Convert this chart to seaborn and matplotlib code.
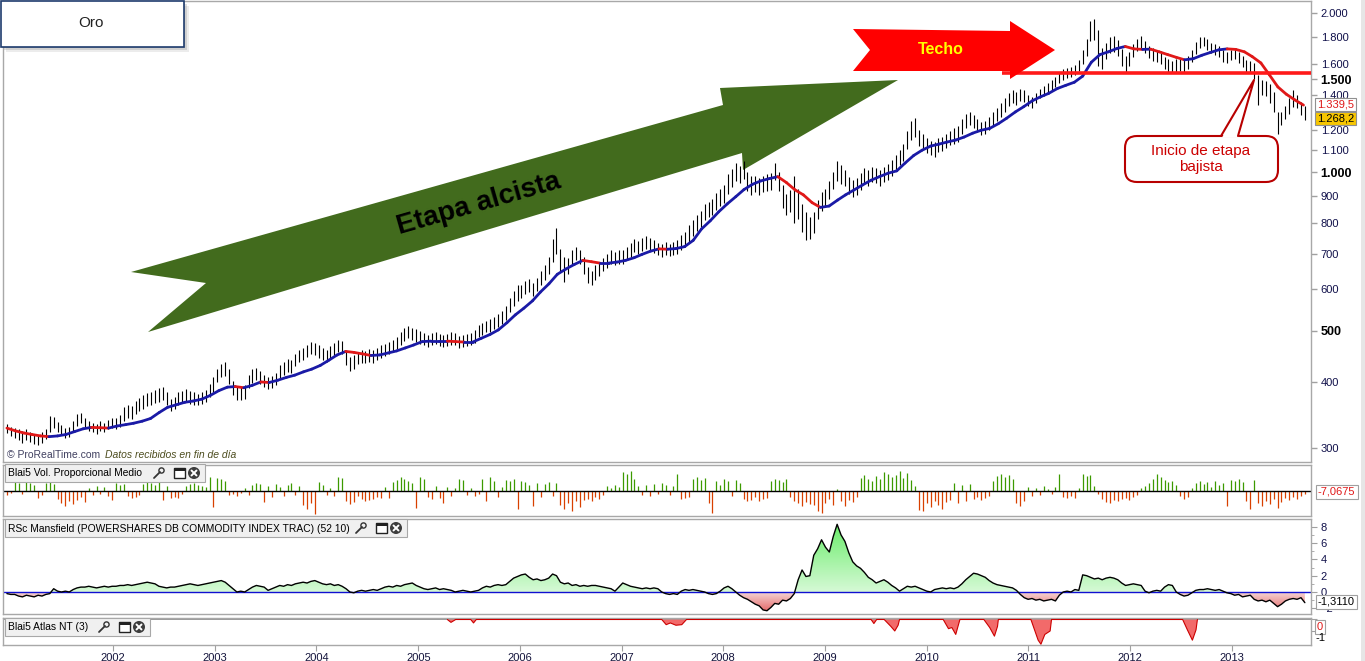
import numpy as np
import pandas as pd
import matplotlib
matplotlib.use("Agg")
import matplotlib.pyplot as plt
import matplotlib.dates as mdates
import matplotlib.ticker as mticker
import matplotlib.transforms as mtransforms
from matplotlib.patches import Polygon, Rectangle, FancyBboxPatch, Circle
from matplotlib.lines import Line2D
from matplotlib.collections import LineCollection
from matplotlib.colors import LinearSegmentedColormap
import seaborn as sns

sns.set_style("white")
plt.rcParams['font.family'] = ['Liberation Sans', 'DejaVu Sans']

# ------------------------------
# data (two-week bars, Dec 2000 .. Sep 2013)
# ------------------------------
bar_start = "2000-12-15"

price_hi = [
    333, 328,
    327, 325, 323, 325, 322, 319, 317, 321, 326, 345, 343, 336, 332, 327, 329, 338, 347, 349, 342, 337, 335, 333, 337, 335, 339, 341,
    342, 346, 358, 362, 360, 368, 373, 377, 381, 383, 386, 390, 391, 383, 371, 375, 382, 385, 388, 384, 382, 380, 383, 386, 397, 408,
    424, 433, 436, 424, 402, 393, 392, 394, 412, 423, 426, 420, 413, 408, 410, 416, 430, 437, 442, 440, 452, 460, 464, 470, 477, 474,
    471, 464, 460, 467, 475, 481, 478, 458, 446, 449, 456, 459, 458, 461, 459, 464, 471, 473, 477, 481, 487, 497, 506, 511, 507, 503,
    499, 495, 491, 496, 498, 494, 491, 493, 497, 496, 489, 491, 493, 495, 501, 513, 518, 523, 526, 532, 539, 546, 556, 578, 594, 610,
    612, 622, 627, 617, 630, 650, 667, 690, 745, 782, 715, 690, 688, 712, 720, 712, 690, 662, 650, 665, 675, 688, 698, 710, 705, 710,
    710, 720, 733, 746, 741, 749, 756, 751, 743, 735, 730, 736, 732, 737, 742, 760, 770, 792, 812, 828, 843, 868, 878, 890, 912, 928,
    945, 990, 1015, 1040, 1025, 1050, 1000, 985, 985, 975, 985, 990, 995, 1040, 1000, 945, 910, 925, 985, 930, 870, 840, 820, 840, 885, 915,
    930, 960, 1000, 1050, 1030, 1010, 980, 965, 975, 995, 1020, 1010, 1022, 1018, 1008, 1022, 1035, 1055, 1075, 1100, 1130, 1195, 1250, 1265, 1200, 1180,
    1160, 1145, 1140, 1160, 1165, 1180, 1198, 1210, 1220, 1260, 1290, 1300, 1280, 1258, 1245, 1250, 1270, 1300, 1325, 1350, 1380, 1410, 1430, 1420, 1435, 1430,
    1400, 1385, 1410, 1440, 1458, 1475, 1495, 1512, 1545, 1565, 1575, 1585, 1595, 1630, 1700, 1790, 1930, 1950, 1860, 1720, 1760, 1800, 1810, 1780, 1710, 1660,
    1690, 1750, 1790, 1810, 1775, 1735, 1715, 1705, 1695, 1655, 1635, 1625, 1640, 1645, 1635, 1660, 1705, 1765, 1800, 1800, 1790, 1760, 1750, 1730, 1700, 1690,
    1700, 1705, 1690, 1660, 1630, 1625, 1610, 1530, 1495, 1490, 1470, 1420, 1300, 1300, 1335, 1380, 1430, 1400, 1360, 1335,
]

price_lo = [
    320, 316,
    313, 311, 307, 311, 308, 305, 304, 307, 312, 322, 327, 321, 318, 313, 315, 323, 330, 334, 328, 323, 321, 319, 323, 321, 325, 327,
    326, 329, 337, 342, 340, 348, 352, 356, 360, 362, 365, 367, 369, 362, 352, 356, 362, 365, 368, 364, 362, 361, 364, 366, 374, 383,
    400, 408, 411, 397, 378, 370, 370, 372, 389, 398, 404, 397, 391, 388, 390, 394, 406, 413, 418, 416, 428, 436, 440, 446, 452, 450,
    445, 440, 436, 443, 449, 455, 452, 431, 420, 424, 432, 435, 434, 437, 435, 440, 445, 447, 451, 455, 461, 471, 478, 485, 481, 477,
    473, 469, 465, 470, 472, 468, 465, 467, 471, 470, 463, 465, 467, 469, 475, 487, 492, 497, 498, 504, 509, 514, 524, 542, 556, 570,
    578, 588, 593, 583, 594, 610, 623, 640, 675, 700, 645, 618, 642, 668, 680, 668, 640, 616, 612, 625, 635, 648, 658, 670, 665, 670,
    670, 680, 691, 704, 699, 707, 714, 709, 701, 695, 690, 696, 692, 695, 698, 710, 720, 738, 758, 772, 787, 812, 822, 830, 848, 862,
    875, 910, 935, 960, 955, 970, 920, 905, 915, 905, 915, 920, 925, 965, 920, 855, 830, 840, 800, 815, 770, 742, 745, 765, 815, 845,
    860, 890, 930, 960, 950, 940, 910, 895, 905, 925, 950, 940, 958, 952, 942, 958, 965, 985, 1005, 1030, 1050, 1105, 1150, 1165, 1120, 1100,
    1085, 1075, 1070, 1090, 1095, 1110, 1125, 1132, 1142, 1180, 1212, 1228, 1210, 1192, 1178, 1182, 1200, 1222, 1248, 1272, 1302, 1332, 1350, 1340, 1362, 1360,
    1335, 1325, 1350, 1380, 1395, 1405, 1425, 1448, 1478, 1495, 1505, 1515, 1525, 1555, 1600, 1660, 1770, 1780, 1590, 1570, 1640, 1680, 1690, 1660, 1590, 1550,
    1590, 1655, 1695, 1720, 1685, 1645, 1625, 1615, 1605, 1565, 1545, 1540, 1550, 1555, 1545, 1570, 1615, 1675, 1715, 1735, 1705, 1680, 1670, 1650, 1620, 1610,
    1630, 1635, 1610, 1580, 1550, 1540, 1500, 1340, 1400, 1395, 1350, 1300, 1180, 1230, 1260, 1290, 1330, 1320, 1280, 1255,
]

# 30-week moving average, monthly readings (Dec 2000 .. Sep 2013)
ma_start = "2000-12-01"
ma_values = [
    327,
    323, 320, 318, 316, 315, 316, 318, 322, 326, 328, 327.5, 327,
    330, 332, 334, 337, 341, 350, 358, 362, 366, 368, 371, 377,
    385, 391, 392, 390, 394, 400, 399, 403, 408, 412, 418, 423,
    430, 440, 450, 457, 455, 452, 449, 450, 454, 458, 464, 470,
    477, 478, 478, 478, 477, 476, 476, 484, 492, 502, 518, 536,
    552, 570, 592, 614, 640, 655, 668, 680, 676, 672, 672, 675,
    680, 688, 698, 708, 715, 714, 716, 722, 742, 780, 808, 840,
    870, 898, 926, 948, 962, 972, 980, 955, 925, 905, 875, 857,
    862, 885, 905, 925, 945, 965, 980, 995, 1005, 1040, 1075, 1100,
    1120, 1130, 1140, 1150, 1165, 1185, 1200, 1210, 1235, 1265, 1300, 1330,
    1365, 1390, 1410, 1440, 1460, 1480, 1520, 1615, 1670, 1690, 1715, 1730,
    1712, 1708, 1710, 1690, 1670, 1650, 1632, 1640, 1665, 1685, 1705, 1712,
    1708, 1690, 1655, 1610, 1530, 1450, 1405, 1370, 1339.5,
]

volume_values = [
    -4, -2,
    9, 8, -3, 9, 8, 6, -7, -4, 8, 9, 7, -8, -12, -15, -10, -13, -9, -6, -11, 3, -4, 5, -3, 4, -5, -9,
    8, 6, 7, -5, -7, -6, -4, 7, 9, 8, 6, 9, -9, 5, -7, -6, -7, -3, 5, 7, 8, 6, 5, 4, 14, -16,
    13, 12, 10, -4, -3, -5, -2, 3, -4, 6, 8, 7, -11, 5, -6, 7, 4, -5, 6, 8, -4, 5, -14, -18, -12, -23,
    9, 6, -4, 3, -5, 14, 13, -10, -13, -11, -5, -8, -10, -9, -8, -6, -7, 4, -7, 9, 11, 14, 12, 10, 8, -17,
    14, 12, -6, -8, 5, -7, -12, 4, -5, 3, 12, 11, -4, 3, -5, -3, 12, -10, 14, 10, -6, 4, 11, 10, 12, -18,
    10, 9, 6, -15, 8, -6, 7, 9, -5, 8, -14, -18, -12, -20, -10, -16, -9, -8, -10, -6, -8, -4, 5, 3, 6, 4,
    19, 17, 20, 12, 5, -4, 6, -5, 7, -3, 8, 6, -4, 5, 17, -8, -7, -6, 12, 14, 11, 13, -12, -22, 10, 6,
    12, 10, -5, 11, 8, -8, -10, -9, -6, -10, -8, -7, 10, 12, 11, 9, 12, -6, -10, -12, -15, -11, -13, -14, -20, -22,
    -12, -8, -14, 2, -10, -15, -9, -11, -6, 13, 16, 12, 10, 15, 12, 19, 17, 14, 16, 20, 13, 18, 11, 5, -19, -20,
    -12, -16, -10, -14, -18, -11, -9, 8, -12, 6, -10, 7, -8, -6, -9, -7, -5, 10, 15, 17, 14, 16, 12, -12, -15, -10,
    4, -5, 3, -4, 5, 2, -3, 4, 17, -6, -7, -5, -7, 3, 17, 15, 16, 5, -3, -8, -11, -12, -9, -10, -8, -7,
    -9, -6, -4, 3, 5, 8, 12, 17, 14, 11, 9, 10, 6, -5, -8, -6, 3, 8, 10, 7, 9, 4, 10, 6, 8, -15,
    11, 10, 12, 9, -10, -18, 11, -12, -15, -10, -13, -8, -17, -11, -7, -9, -6, -8, -5, -3,
]

rsc_values = [
    -0.2, -0.3,
    -0.3, -0.5, -0.6, -0.4, -0.5, -0.6, -0.4, -0.5, -0.3, -0.2, 0.4, 0.1, 0.0, 0.1, 0.0, 0.3, 0.5, 0.6, 0.6, 0.7, 0.6, 0.5, 0.6, 0.7, 0.6, 0.7,
    0.7, 0.8, 0.8, 0.9, 0.8, 0.9, 1.0, 1.1, 1.2, 1.1, 1.0, 0.7, 0.6, 0.5, 0.6, 0.6, 0.7, 0.8, 0.9, 1.0, 0.9, 0.8, 0.9, 1.0, 1.1, 1.2,
    1.3, 1.4, 1.2, 0.8, 0.4, 0.0, 0.1, 0.0, 0.3, 0.6, 0.8, 0.7, 0.6, 0.2, 0.4, 0.6, 0.8, 0.7, 0.9, 0.8, 1.0, 1.1, 1.2, 1.1, 1.3, 1.4,
    1.2, 1.0, 0.9, 1.0, 0.8, 0.9, 0.7, 0.4, 0.0, -0.1, 0.1, 0.2, 0.1, 0.2, 0.3, 0.2, 0.4, 0.6, 0.7, 0.6, 0.8, 0.7, 0.9, 1.0, 1.1, 0.8,
    0.6, 0.4, 0.3, 0.4, 0.5, 0.3, 0.4, 0.3, 0.2, 0.0, 0.1, 0.2, 0.1, 0.0, 0.1, 0.2, 0.5, 0.7, 0.6, 0.8, 0.9, 0.8, 0.9, 1.3, 1.7, 1.9,
    2.1, 2.2, 1.8, 1.5, 1.6, 1.4, 1.5, 1.7, 2.2, 2.0, 1.2, 1.0, 1.1, 0.8, 0.9, 0.7, 0.8, 0.7, 0.8, 0.8, 0.7, 0.6, 0.5, 0.4, 0.1, 0.6,
    1.1, 0.9, 0.7, 0.6, 0.5, 0.4, 0.5, 0.4, 0.5, 0.4, 0.0, -0.2, -0.3, -0.2, -0.3, 0.1, 0.3, 0.2, 0.3, 0.2, 0.1, 0.0, -0.2, -0.3, -0.2, 0.1,
    0.5, 0.7, 0.4, 0.0, -0.4, -0.7, -0.9, -1.2, -1.5, -1.7, -2.2, -2.3, -1.9, -1.4, -1.5, -1.0, -1.1, -0.8, -0.2, 1.5, 2.7, 1.9, 2.0, 4.5, 5.3, 6.4,
    5.5, 4.9, 6.8, 8.3, 7.0, 6.2, 4.8, 3.7, 3.2, 2.9, 2.4, 1.8, 1.5, 1.1, 1.3, 1.5, 1.2, 0.8, 0.5, 0.1, 0.4, 0.7, 0.6, 0.7, 0.5, 0.3,
    0.1, 0.0, 0.3, 0.4, 0.5, 0.4, 0.5, 0.4, 0.6, 1.0, 1.5, 1.9, 2.3, 2.2, 2.0, 1.8, 1.4, 1.1, 0.9, 0.8, 0.7, 0.6, 0.5, 0.2, -0.3, -0.7,
    -0.9, -0.8, -1.0, -0.9, -1.1, -1.0, -0.9, -1.1, -0.4, 0.0, 0.1, 0.0, 0.3, 0.2, 2.1, 2.0, 1.8, 1.6, 1.7, 1.5, 1.7, 1.8, 1.7, 1.5, 1.1, 0.8,
    0.9, 1.0, 0.9, 0.8, 0.1, -0.1, 0.1, 0.2, 0.1, 0.6, 0.9, 0.8, 0.0, -0.3, -0.5, -0.4, -0.1, 0.2, 0.3, 0.3, 0.4, 0.3, 0.2, 0.3, 0.1, -0.1,
    -0.2, -0.4, -0.3, -0.6, -0.5, -0.4, -0.9, -1.1, -1.0, -1.2, -1.0, -1.4, -1.8, -1.5, -1.1, -0.9, -0.8, -0.9, -0.7, -1.31,
]

# Atlas NT: zero except for a few dips
atlas_dates = [
    "2000-12-01",
    "2005-04-15", "2005-04-28", "2005-05-15",
    "2005-07-08", "2005-07-18", "2005-07-28",
    "2007-05-25", "2007-06-10", "2007-06-25", "2007-07-15", "2007-08-05", "2007-08-22",
    "2009-06-15", "2009-06-25", "2009-07-05",
    "2009-08-01", "2009-08-25", "2009-09-08", "2009-09-20", "2009-09-25",
    "2010-03-01", "2010-03-20", "2010-04-01", "2010-04-15", "2010-04-30",
    "2010-07-25", "2010-08-15", "2010-09-01", "2010-09-12", "2010-09-15",
    "2011-01-10", "2011-02-05", "2011-02-15", "2011-03-01", "2011-03-20", "2011-03-25",
    "2012-07-08", "2012-07-25", "2012-08-12", "2012-08-25", "2012-08-30",
    "2013-09-30",
]
atlas_values = [
    0,
    0, -0.25, 0,
    0, -0.3, 0,
    0, -0.45, -0.3, -0.5, -0.45, 0,
    0, -0.35, 0,
    0, -0.6, -1.0, -0.5, 0,
    0, -0.8, -0.7, -1.3, 0,
    0, -0.7, -1.45, -0.6, 0,
    0, -1.8, -2.15, -1.3, -1.0, 0,
    0, -0.9, -1.8, -0.9, 0,
    0,
]

price_ticks = [300, 400, 500, 600, 700, 800, 900, 1000, 1100, 1200, 1400, 1500, 1600, 1800, 2000]
price_tick_labels = ['300', '400', '500', '600', '700', '800', '900', '1.000', '1.100', '1.200',
                     '1.400', '1.500', '1.600', '1.800', '2.000']
bold_ticks = [500, 1000, 1500]
year_labels = ['2002', '2003', '2004', '2005', '2006', '2007', '2008', '2009', '2010', '2011', '2012', '2013']

techo_level = 1538
techo_from = "2010-09-27"

# ------------------------------
# figure / panels
# ------------------------------
W, H = 1365, 661
fig = plt.figure(figsize=(W / 100, H / 100), dpi=100, facecolor='white')
px = mtransforms.Affine2D().scale(1, -1).translate(0, H)   # pixel coords, y from top


def add_panel(x0, y0, x1, y1, **kw):
    return fig.add_axes([x0 / W, 1 - y1 / H, (x1 - x0) / W, (y1 - y0) / H], **kw)


ax = add_panel(3, 1, 1311, 462)
ax_vol = add_panel(3, 465, 1311, 516, sharex=ax)
ax_rsc = add_panel(3, 519, 1311, 614, sharex=ax)
ax_atl = add_panel(3, 618, 1311, 645, sharex=ax)

for a in (ax, ax_vol, ax_rsc, ax_atl):
    a.set_facecolor('white')
    for s in a.spines.values():
        s.set_color('#a8a8a8')
        s.set_linewidth(1)

bar_dates = pd.date_range(bar_start, periods=len(price_hi), freq="14D")
ma_dates = pd.date_range(ma_start, periods=len(ma_values), freq="MS") + pd.Timedelta(days=14)

# ------------------------------
# price panel
# ------------------------------
ax.vlines(bar_dates, price_lo, price_hi, colors='black', linewidth=0.8, zorder=2)

ma_x = mdates.date2num(ma_dates)
ma_y = np.array(ma_values, dtype=float)
pts = np.column_stack([ma_x, ma_y])
segs = np.stack([pts[:-1], pts[1:]], axis=1)
seg_cols = ['#e01818' if ma_y[i + 1] < ma_y[i] else '#1a1aa6' for i in range(len(ma_y) - 1)]
ax.add_collection(LineCollection(segs, colors=seg_cols, linewidths=2.0, capstyle='round', zorder=3))

ax.hlines(techo_level, pd.Timestamp(techo_from), pd.Timestamp("2013-10-12"),
          colors='#ff1a1a', linewidth=2.6, zorder=4)

ax.set_yscale('log')
ax.set_xlim(pd.Timestamp("2000-12-01"), pd.Timestamp("2013-10-12"))
ax.set_ylim(282, 2110)
ax.yaxis.tick_right()
ax.set_yticks(price_ticks)
ax.set_yticklabels(price_tick_labels)
ax.yaxis.set_minor_locator(mticker.NullLocator())
ax.tick_params(axis='y', which='major', right=True, left=False, length=4, width=1,
               color='#a0a0a0', pad=3, labelsize=8, labelcolor='#10104a')
for lab, v in zip(ax.get_yticklabels(), price_ticks):
    if v in bold_ticks:
        lab.set_fontweight('bold')
        lab.set_fontsize(9)
        lab.set_color('black')
ax.tick_params(axis='x', bottom=False, labelbottom=False)

# green "Etapa alcista" arrow (under the bars)
green_arrow = [(131, 272), (723, 105), (720, 88), (898, 80), (743, 170),
               (742, 153), (148, 332), (206, 283)]
ax.add_patch(Polygon(green_arrow, closed=True, transform=px, facecolor='#426b1d',
                     edgecolor='none', zorder=1))

# ------------------------------
# volume panel
# ------------------------------
vol = np.array(volume_values, dtype=float)
up = vol > 0
ax_vol.vlines(bar_dates[up], 0, vol[up], colors='#3c9a00', linewidth=0.9)
ax_vol.vlines(bar_dates[~up], 0, vol[~up], colors='#d84000', linewidth=0.9)
ax_vol.axhline(0, color='black', linewidth=1)
ax_vol.set_ylim(-25, 26)
ax_vol.set_yticks([])
ax_vol.tick_params(axis='x', bottom=False, labelbottom=False)

# ------------------------------
# RSc Mansfield panel
# ------------------------------
rsc = np.array(rsc_values, dtype=float)
xnum = mdates.date2num(bar_dates)
rsc_lo, rsc_hi = -2.70, 8.95
pos_poly = ax_rsc.fill_between(xnum, 0, np.clip(rsc, 0, None), facecolor='none', edgecolor='none')
neg_poly = ax_rsc.fill_between(xnum, 0, np.clip(rsc, None, 0), facecolor='none', edgecolor='none')
grad = np.linspace(0, 1, 256).reshape(-1, 1)
green_cmap = LinearSegmentedColormap.from_list('g', ['#d6f9d6', '#66ec66'])
red_cmap = LinearSegmentedColormap.from_list('r', ['#e25a5a', '#f6dada'])
im_g = ax_rsc.imshow(grad, extent=[xnum[0], xnum[-1], 0, 8.6], origin='lower',
                     aspect='auto', cmap=green_cmap, zorder=1, interpolation='bilinear')
im_g.set_clip_path(pos_poly.get_paths()[0], transform=ax_rsc.transData)
im_r = ax_rsc.imshow(grad, extent=[xnum[0], xnum[-1], rsc_lo, 0], origin='lower',
                     aspect='auto', cmap=red_cmap, zorder=1, interpolation='bilinear')
im_r.set_clip_path(neg_poly.get_paths()[0], transform=ax_rsc.transData)
ax_rsc.axhline(0, color='#1010d0', linewidth=1, zorder=2)
sns.lineplot(x=bar_dates, y=rsc, ax=ax_rsc, color='black', linewidth=1.0, legend=False, zorder=3)
ax_rsc.set_xlim(pd.Timestamp("2000-12-01"), pd.Timestamp("2013-10-12"))
ax_rsc.set_ylim(rsc_lo, rsc_hi)
ax_rsc.set_ylabel('')
ax_rsc.yaxis.tick_right()
ax_rsc.set_yticks([8, 6, 4, 2, 0, -2])
ax_rsc.yaxis.set_minor_locator(mticker.MultipleLocator(1))
ax_rsc.tick_params(axis='y', which='major', right=True, left=False, length=4, color='#a0a0a0',
                   labelsize=8, labelcolor='#10104a', pad=3)
ax_rsc.tick_params(axis='y', which='minor', right=True, left=False, length=2, color='#a0a0a0')
ax_rsc.tick_params(axis='x', bottom=False, labelbottom=False)

# ------------------------------
# Atlas NT panel
# ------------------------------
atl_x = pd.to_datetime(atlas_dates)
atl_v = np.array(atlas_values, dtype=float)
ax_atl.axhline(0, color='#888888', linewidth=1.2, zorder=1)
ax_atl.fill_between(atl_x, 0, atl_v, facecolor='#f26a6a', edgecolor='none', zorder=2)
# outline only where the series leaves zero
edge_v = atl_v.copy()
for i in range(len(atl_v)):
    left_zero = i == 0 or atl_v[i - 1] == 0
    right_zero = i == len(atl_v) - 1 or atl_v[i + 1] == 0
    if atl_v[i] == 0 and left_zero and right_zero:
        edge_v[i] = np.nan
ax_atl.plot(atl_x, edge_v, color='#cc0000', linewidth=0.8, zorder=3)
ax_atl.set_ylim(-2.22, 0.13)
ax_atl.yaxis.tick_right()
ax_atl.set_yticks([0, -1])
ax_atl.set_yticklabels(['', ''])
ax_atl.tick_params(axis='y', right=True, left=False, length=4, color='#a0a0a0')
ax_atl.set_xticks(pd.to_datetime([y + '-01-01' for y in year_labels]))
ax_atl.xaxis.set_major_formatter(mdates.DateFormatter('%Y'))
ax_atl.tick_params(axis='x', bottom=True, length=4, color='#a0a0a0', labelsize=8,
                   labelcolor='#14143c', pad=2)
ax_atl.set_xlim(pd.Timestamp("2000-12-01"), pd.Timestamp("2013-10-12"))

# ------------------------------
# annotations (pixel coords)
# ------------------------------
fig.add_artist(Rectangle((1361, 0), 4, H, transform=px, facecolor='#e6e6e6', edgecolor='none'))

# title box "Oro" with shadow
for off, alpha in ((6, 0.15), (4, 0.25), (2, 0.35)):
    fig.add_artist(Rectangle((off, off), 183, 46, transform=px, facecolor='#808080',
                             edgecolor='none', alpha=alpha))
fig.add_artist(Rectangle((0.5, 0.5), 183, 46, transform=px, facecolor='white',
                         edgecolor='#1f3c6e', linewidth=1.2))
fig.text(91, 23, 'Oro', transform=px, ha='center', va='center', fontsize=11, color='#222222')

# red "Techo" arrow
red_arrow = [(853, 29), (1010, 31), (1010, 21), (1055, 50), (1010, 79), (1010, 71),
             (853, 71), (870, 50)]
fig.add_artist(Polygon(red_arrow, closed=True, transform=px, facecolor='#ff0000', edgecolor='none'))
fig.text(941, 49, 'Techo', transform=px, ha='center', va='center', fontsize=11.5,
         fontweight='bold', color='#ffff00')

fig.text(479, 204, 'Etapa alcista', transform=px, ha='center', va='center', fontsize=20,
         fontweight='bold', color='black', rotation=16, rotation_mode='anchor')

# callout
fig.add_artist(FancyBboxPatch((1125, 136), 153, 46, boxstyle='round,pad=0,rounding_size=12',
                              transform=px, facecolor='white', edgecolor='#b80000', linewidth=1.5))
fig.add_artist(Polygon([(1222, 137.5), (1254, 80), (1238, 137.5)], closed=True, transform=px,
                       facecolor='white', edgecolor='none'))
fig.add_artist(Line2D([1221, 1254, 1238], [136, 80, 136], transform=px, color='#b80000', linewidth=1.5))
fig.text(1201, 159, 'Inicio de etapa\nbajista', transform=px, ha='center', va='center',
         fontsize=11, color='#cc0000', linespacing=1.15)

# copyright line
fig.text(7, 455, '\u00a9 ProRealTime.com', transform=px, ha='left', va='center', fontsize=7.5,
         color='#404060')
fig.text(105, 455, 'Datos recibidos en fin de d\u00eda', transform=px, ha='left', va='center',
         fontsize=7.5, style='italic', color='#4d4d1f')

# value boxes on the right
fig.text(1317, 104.5, '1.339,5', transform=px, ha='left', va='center', fontsize=8, color='#e01818',
         bbox=dict(boxstyle='square,pad=0.15', facecolor='white', edgecolor='#909090', linewidth=0.8))
fig.text(1317, 118.5, '1.268,2', transform=px, ha='left', va='center', fontsize=8, color='black',
         bbox=dict(boxstyle='square,pad=0.15', facecolor='#f7c600', edgecolor='#909090', linewidth=0.8))
fig.text(1318, 492, '-7,0675', transform=px, ha='left', va='center', fontsize=8, color='#e01818',
         bbox=dict(boxstyle='square,pad=0.2', facecolor='white', edgecolor='#a0a0a0', linewidth=0.8))
fig.text(1318, 602, '-1,3110', transform=px, ha='left', va='center', fontsize=8, color='black',
         bbox=dict(boxstyle='square,pad=0.2', facecolor='white', edgecolor='#a0a0a0', linewidth=0.8))
fig.text(1317, 627, '0', transform=px, ha='left', va='center', fontsize=8, color='#e01818',
         bbox=dict(boxstyle='square,pad=0.15', facecolor='white', edgecolor='#a0a0a0', linewidth=0.8))
fig.text(1316, 638, '-1', transform=px, ha='left', va='center', fontsize=8, color='black')


# panel title boxes with small icons
def panel_label(x0, y0, w, text):
    fig.add_artist(Rectangle((x0, y0), w, 18, transform=px, facecolor='#f0f0f0',
                             edgecolor='#a8a8a8', linewidth=0.8))
    fig.text(x0 + 3, y0 + 9.5, text, transform=px, ha='left', va='center', fontsize=7.4, color='black')
    cy = y0 + 9
    wx = x0 + w - 47
    fig.add_artist(Line2D([wx - 4, wx + 2], [cy + 5, cy - 1], transform=px, color='#333333',
                          linewidth=1.3))
    fig.add_artist(Circle((wx + 3.5, cy - 2.5), 2.6, transform=px, facecolor='none',
                          edgecolor='#333333', linewidth=1))
    bx = x0 + w - 31
    fig.add_artist(Rectangle((bx, cy - 5), 11, 10, transform=px, facecolor='white',
                             edgecolor='#222222', linewidth=1))
    fig.add_artist(Rectangle((bx, cy - 5), 11, 2.5, transform=px, facecolor='#222222',
                             edgecolor='none'))
    cx = x0 + w - 11
    fig.add_artist(Circle((cx, cy), 6, transform=px, facecolor='#3c3c3c', edgecolor='none'))
    fig.add_artist(Line2D([cx - 2.5, cx + 2.5], [cy - 2.5, cy + 2.5], transform=px,
                          color='white', linewidth=1.4))
    fig.add_artist(Line2D([cx - 2.5, cx + 2.5], [cy + 2.5, cy - 2.5], transform=px,
                          color='white', linewidth=1.4))


panel_label(5, 464, 200, 'Blai5 Vol. Proporcional Medio')
panel_label(5, 519, 402, 'RSc Mansfield (POWERSHARES DB COMMODITY INDEX TRAC) (52 10)')
panel_label(5, 618, 145, 'Blai5 Atlas NT (3)')

fig.savefig('out.png', dpi=100, facecolor='white')
